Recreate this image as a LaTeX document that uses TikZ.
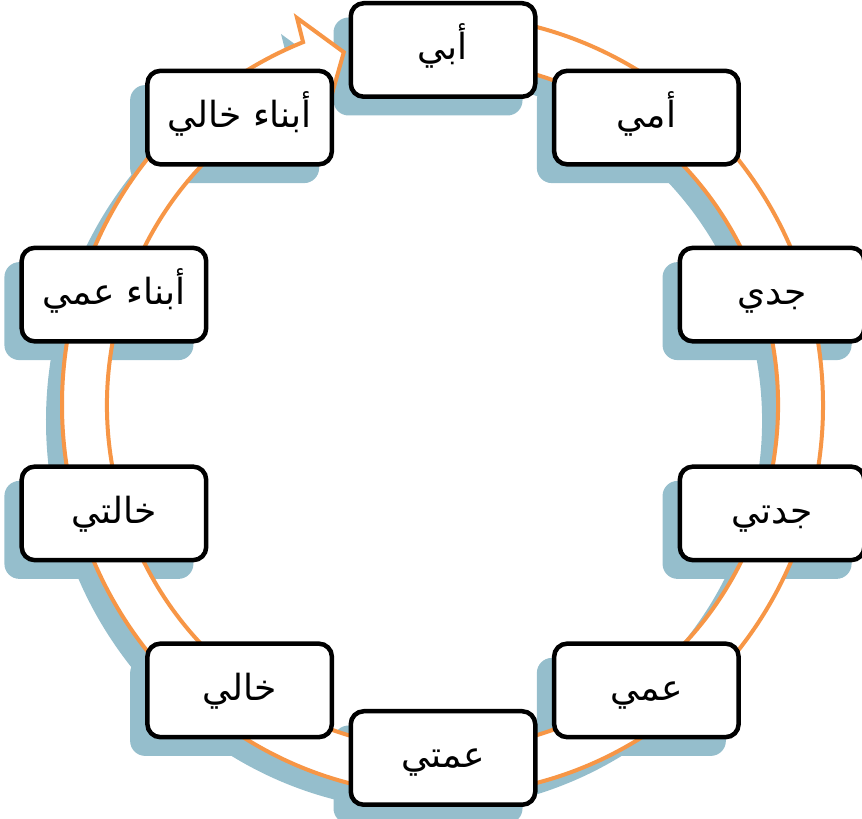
\documentclass[tikz,border=0pt]{standalone}
\usepackage{fontspec}
\newfontfamily\arabicfont[Script=Arabic]{DejaVu Sans}
\TeXXeTstate=1
\definecolor{ringorange}{RGB}{247,150,70}
\definecolor{shadowblue}{RGB}{149,190,204}
\tikzset{
  item/.style={draw=black, line width=4.5pt, fill=white, rounded corners=13pt,
    minimum width=184.5pt, minimum height=93.5pt, inner sep=0pt,
    text height=28pt, text depth=8pt,
    font=\arabicfont\fontsize{36}{40}\selectfont},
  itemshadow/.style={fill=shadowblue, rounded corners=15pt,
    minimum width=189pt, minimum height=98pt, inner sep=0pt},
  ringline/.style={draw=ringorange, line width=4pt, fill=white},
  ringshadow/.style={fill=shadowblue},
}
\begin{document}
\begin{tikzpicture}[x=1pt,y=1pt]
\useasboundingbox (0,0) rectangle (862,819);
\coordinate (bc) at (443,415);
% shadows of the boxes
\foreach \i in {1,...,10}{
  \pgfmathsetmacro{\a}{126-36*\i}
  \node[itemshadow] (s\i) at ([shift={(\a:346pt and 354pt)},xshift=-15pt,yshift=-16.5pt]bc) {};
}
% shadow of the ring
\begin{scope}[shift={(-16pt,-16pt)}]
\path[ringshadow] ([shift={(95:380.5pt and 390pt)}]442.5,414)
  arc[start angle=95, end angle=-248.5, x radius=380.5pt, y radius=390pt]
  -- (297,801) -- (343.8,766.8) -- (328,711)
  -- ([shift={(111.5:335.5pt and 344pt)}]442.5,414)
  arc[start angle=111.5, end angle=455, x radius=335.5pt, y radius=344pt]
  -- cycle;
\end{scope}
% the ring arrow
\path[ringline] ([shift={(95:380.5pt and 390pt)}]442.5,414)
  arc[start angle=95, end angle=-248.5, x radius=380.5pt, y radius=390pt]
  -- (297,801) -- (343.8,766.8) -- (328,711)
  -- ([shift={(111.5:335.5pt and 344pt)}]442.5,414)
  arc[start angle=111.5, end angle=455, x radius=335.5pt, y radius=344pt]
  -- cycle;
% boxes
\foreach \i/\t in {1/أبي, 2/أمي, 3/جدي, 4/جدتي, 5/عمي, 6/عمتي, 7/خالي, 8/خالتي, 9/أبناء عمي, 10/أبناء خالي}{
  \pgfmathsetmacro{\a}{126-36*\i}
  \node[item] (n\i) at ([shift={(\a:346pt and 354pt)}]bc) {\beginR\t\endR};
}
\end{tikzpicture}
\end{document}
